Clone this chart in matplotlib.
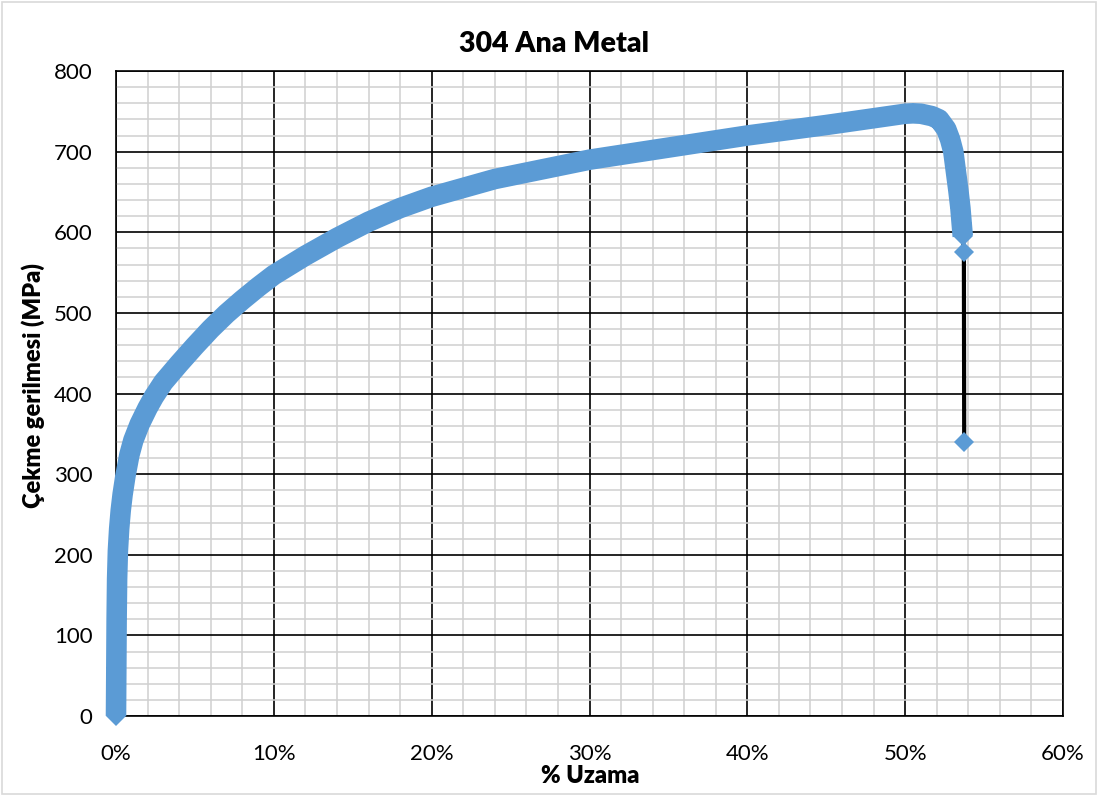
import numpy as np
import matplotlib.pyplot as plt
from matplotlib.ticker import MultipleLocator, PercentFormatter
from matplotlib.patches import Rectangle

plt.rcParams['font.family'] = ['Lato', 'DejaVu Sans']

# 304 base metal tensile test: elongation (%) vs tensile stress (MPa)
uzama = [0.0, 0.02, 0.04, 0.07, 0.12, 0.2, 0.3, 0.42, 0.6, 0.85, 1.1,
         1.5, 2.0, 2.4, 3.0, 4.0, 5.0, 6.0, 7.0, 8.0, 9.0, 10.0, 12.0,
         14.0, 16.0, 18.0, 20.0, 24.0, 30.0, 36.0, 40.0, 45.0, 50.0, 50.5,
         51.0, 51.7, 52.15, 52.6, 52.85, 53.05, 53.37, 53.5, 53.58, 53.65,
         53.72, 53.74]
gerilme = [0, 60, 120, 170, 205, 232, 255, 275, 298, 324, 342,
           362, 382, 396, 414, 437, 459, 480, 499, 516, 532, 547, 571,
           593, 613, 630, 644, 666, 690, 708, 720, 733, 747, 747.5,
           747, 744, 740, 728, 715, 700, 652, 630, 611, 595,
           575, 340]

x = np.array(uzama)
y = np.array(gerilme)
blue = '#5B9BD5'

fig = plt.figure(figsize=(10.98, 7.96), dpi=100)
ax = fig.add_axes([116/1098, 1 - 716/796, (1063 - 116)/1098, (716 - 71)/796])

# series line (black) under the markers, visible only on the last drop
ax.plot(x, y, color='black', lw=3.0, zorder=3, clip_on=False)
ax.plot(x[:-2], y[:-2], color=blue, lw=14.8, solid_capstyle='butt',
        solid_joinstyle='round', zorder=4, clip_on=False)
ax.plot(x, y, ls='none', marker='D', ms=10.3, color=blue, mec=blue,
        mew=0, zorder=5, clip_on=False)

ax.set_xlim(0, 60)
ax.set_ylim(0, 800)
ax.xaxis.set_major_locator(MultipleLocator(10))
ax.xaxis.set_minor_locator(MultipleLocator(2))
ax.yaxis.set_major_locator(MultipleLocator(100))
ax.yaxis.set_minor_locator(MultipleLocator(20))
ax.xaxis.set_major_formatter(PercentFormatter(decimals=0))

ax.grid(which='minor', color='#D0D0D0', lw=1.1, zorder=1)
ax.grid(which='major', color='black', lw=1.2, zorder=2)
ax.set_axisbelow(True)
for s in ax.spines.values():
    s.set_color('black')
    s.set_linewidth(1.2)

ax.tick_params(which='both', length=0, labelsize=16, colors='#000000')
ax.tick_params(axis='y', pad=17)
ax.tick_params(axis='x', pad=20)

fig.text(554/1098, 1 - 44/796, '304 Ana Metal', ha='center', va='center',
         fontsize=20.5, fontweight='heavy')
fig.text(590/1098, 1 - 776/796, '% Uzama', ha='center', va='center',
         fontsize=17, fontweight='heavy')
fig.text(33/1098, 1 - 386/796, 'Çekme gerilmesi (MPa)', ha='center',
         va='center', rotation=90, fontsize=17, fontweight='heavy')

fig.patches.append(Rectangle((0.002, 0.002), 0.996, 0.996,
                             transform=fig.transFigure, fill=False,
                             edgecolor='#D9D9D9', lw=1.2))

fig.savefig('out.png', dpi=100)
